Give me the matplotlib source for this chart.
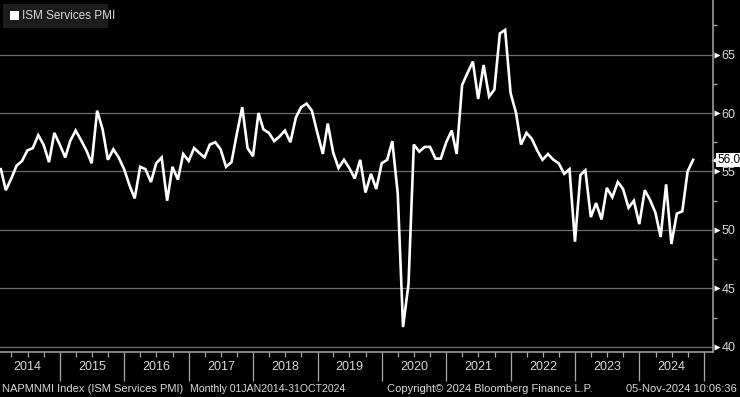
import matplotlib

matplotlib.use("Agg")
import matplotlib.dates as mdates
import matplotlib.pyplot as plt
import pandas as pd
from matplotlib.patches import Rectangle
from matplotlib.transforms import blended_transform_factory


# ISM Services PMI, monthly Jan 2014 - Oct 2024
pmi_2014 = [55.2, 53.4, 54.4, 55.5, 55.9, 56.8, 57.0, 58.1, 57.3, 55.8, 58.3, 57.3]
pmi_2015 = [56.2, 57.6, 58.5, 57.7, 56.8, 55.7, 60.2, 58.6, 56.0, 56.9, 56.2, 55.2]
pmi_2016 = [53.8, 52.7, 55.4, 55.2, 54.1, 55.7, 56.2, 52.5, 55.4, 54.3, 56.5, 55.9]
pmi_2017 = [57.0, 56.6, 56.2, 57.3, 57.5, 56.9, 55.4, 55.8, 58.2, 60.5, 57.0, 56.3]
pmi_2018 = [60.0, 58.6, 58.3, 57.6, 58.0, 58.5, 57.5, 59.6, 60.5, 60.8, 60.2, 58.3]
pmi_2019 = [56.5, 59.1, 56.6, 55.3, 56.0, 55.3, 54.4, 56.0, 53.2, 54.8, 53.5, 55.7]
pmi_2020 = [56.0, 57.6, 53.1, 41.7, 45.4, 57.3, 56.7, 57.1, 57.1, 56.1, 56.1, 57.5]
pmi_2021 = [58.5, 56.5, 62.4, 63.4, 64.4, 61.2, 64.1, 61.4, 62.0, 66.8, 67.1, 61.7]
pmi_2022 = [60.0, 57.3, 58.3, 57.8, 56.8, 56.0, 56.5, 56.0, 55.7, 54.8, 55.2, 49.0]
pmi_2023 = [54.7, 55.1, 51.1, 52.3, 50.9, 53.6, 52.8, 54.1, 53.5, 51.9, 52.5, 50.5]
pmi_2024 = [53.4, 52.6, 51.5, 49.4, 53.9, 48.8, 51.4, 51.6, 55.0, 56.0]

years = list(range(2014, 2025))
y_ticks = [40, 45, 50, 55, 60, 65]

values = (pmi_2014 + pmi_2015 + pmi_2016 + pmi_2017 + pmi_2018 + pmi_2019
          + pmi_2020 + pmi_2021 + pmi_2022 + pmi_2023 + pmi_2024)
dates = pd.date_range("2014-01-31", periods=len(values), freq="ME")

W, H = 740, 397
GRID = "#6e6e6e"
AXIS = "#a8a8a8"
TEXT = "#d8d8d8"

plt.rcParams["font.family"] = ["Liberation Sans", "DejaVu Sans"]

fig = plt.figure(figsize=(W / 100, H / 100), dpi=100)
fig.patch.set_facecolor("black")

ax = fig.add_axes([0, 1 - 352 / H, 713 / W, 352 / H])
ax.set_facecolor("black")

ax.plot(mdates.date2num(dates), values, color="white", lw=1.9,
        solid_joinstyle="miter", zorder=3)

ax.set_xlim(mdates.date2num(pd.Timestamp("2014-01-26")),
            mdates.date2num(pd.Timestamp("2025-02-21")))
ax.set_ylim(39.57, 69.66)

# horizontal grid
ax.set_yticks(y_ticks)
ax.set_yticks([42.5, 47.5, 52.5, 57.5, 62.5, 67.5], minor=True)
ax.grid(axis="y", which="major", color=GRID, lw=0.9)
ax.yaxis.tick_right()
ax.tick_params(axis="y", which="major", length=0, pad=6, labelsize=9,
               labelcolor=TEXT)
ax.tick_params(axis="y", which="minor", length=3, width=1, color=AXIS,
               direction="out")

# triangle markers on the right axis
tr_y = blended_transform_factory(ax.transAxes, ax.transData)
ax.plot([1 + 3.5 / 713] * len(y_ticks), y_ticks, ls="none", marker=">",
        ms=4.5, color="white", mec="none", transform=tr_y, clip_on=False)

# x axis: year dividers and quarter ticks
year_starts = [pd.Timestamp(f"{y}-01-01") for y in years[1:] + [2025]]
quarters = [pd.Timestamp(f"{y}-{m:02d}-01") for y in years for m in (4, 7, 10)]
ax.set_xticks(mdates.date2num(year_starts))
ax.set_xticks(mdates.date2num(quarters), minor=True)
ax.tick_params(axis="x", which="major", length=21, width=0.9, color=AXIS,
               labelbottom=False)
ax.tick_params(axis="x", which="minor", length=3.5, width=0.9, color=AXIS)

for side in ["left", "top"]:
    ax.spines[side].set_visible(False)
for side in ["right", "bottom"]:
    ax.spines[side].set_color(AXIS)
    ax.spines[side].set_linewidth(1.1)

tr_x = blended_transform_factory(ax.transData, fig.transFigure)
for y in years:
    mid = mdates.date2num(pd.Timestamp(f"{y}-07-02"))
    ax.text(mid, 1 - 367 / H, str(y), transform=tr_x, ha="center",
            va="center", fontsize=9, color=TEXT, clip_on=False)

# last value tag
last = values[-1]
ax.plot([1 + 2 / 713], [last], marker="<", ms=6, color="white", mec="none",
        transform=tr_y, clip_on=False)
ax.text(1 + 4 / 713, last, f"{last:.1f}", transform=tr_y, ha="left",
        va="center", fontsize=8.5, color="black", clip_on=False,
        bbox={"boxstyle": "square,pad=0.08", "facecolor": "white",
              "edgecolor": "none"})

# legend box
fig.patches.append(Rectangle((3 / W, 1 - 28 / H), 105 / W, 24 / H,
                             transform=fig.transFigure, facecolor="#1c1c1c",
                             edgecolor="none", zorder=5))
fig.patches.append(Rectangle((10 / W, 1 - 20 / H), 9 / W, 9 / H,
                             transform=fig.transFigure, facecolor="white",
                             edgecolor="none", zorder=6))
fig.text(22 / W, 1 - 16 / H, "ISM Services PMI", ha="left", va="center",
         fontsize=8.5, color=TEXT, zorder=7)

# footer
fy = 1 - 389 / H
fig.text(2 / W, fy, "NAPMNMI Index (ISM Services PMI)",
         ha="left", va="center", fontsize=8, color=TEXT)
fig.text(190 / W, fy, "Monthly 01JAN2014-31OCT2024",
         ha="left", va="center", fontsize=7.6, color=TEXT)
fig.text(490 / W, fy, "Copyright\u00a9 2024 Bloomberg Finance L.P.",
         ha="center", va="center", fontsize=8, color=TEXT)
fig.text(737 / W, fy, "05-Nov-2024 10:06:36", ha="right", va="center",
         fontsize=8, color=TEXT)

fig.savefig("out.png", dpi=100, facecolor=fig.get_facecolor())
